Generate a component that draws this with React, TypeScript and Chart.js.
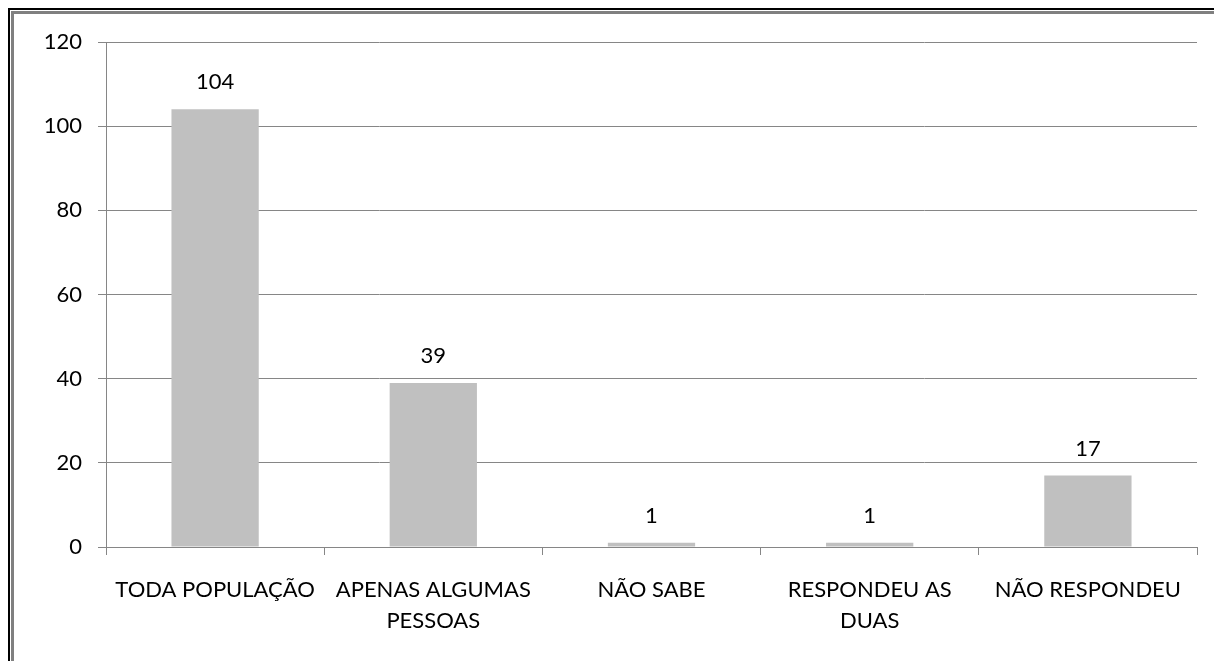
import React, { useEffect, useRef } from "react";
import { Chart, registerables } from "chart.js";

Chart.register(...registerables);

const categories: (string | string[])[] = [
  "TODA POPULAÇÃO",
  ["APENAS ALGUMAS", "PESSOAS"],
  "NÃO SABE",
  ["RESPONDEU AS", "DUAS"],
  "NÃO RESPONDEU",
];
const values: number[] = [104, 39, 1, 1, 17];
const yTicks: number[] = [0, 20, 40, 60, 80, 100, 120];

const FONT = "Lato";
const FONT_SIZE = 22;
const GRID = "#868686";

const framePlugin = {
  id: "frame",
  beforeDraw(chart: any) {
    const { ctx, width, height } = chart;
    ctx.save();
    ctx.fillStyle = "#ffffff";
    ctx.fillRect(0, 0, width, height);
    ctx.fillStyle = "#000000";
    ctx.fillRect(8, 8, width - 8, 2);
    ctx.fillRect(8, 8, 2, height - 8);
    ctx.fillStyle = "#808080";
    ctx.fillRect(11, 11, width - 11, 3);
    ctx.fillRect(11, 11, 3, height - 11);
    ctx.restore();
  },
};

const valueLabelPlugin = {
  id: "valueLabels",
  afterDatasetsDraw(chart: any) {
    const { ctx } = chart;
    const meta = chart.getDatasetMeta(0);
    ctx.save();
    ctx.font = `${FONT_SIZE}px ${FONT}`;
    ctx.fillStyle = "#000000";
    ctx.textAlign = "center";
    ctx.textBaseline = "middle";
    meta.data.forEach((bar: any, i: number) => {
      ctx.fillText(String(values[i]), bar.x, bar.y - 27);
    });
    ctx.restore();
  },
};

export default function App() {
  const ref = useRef<HTMLCanvasElement | null>(null);
  useEffect(() => {
    if (!ref.current) return;
    const chart = new Chart(ref.current, {
      type: "bar",
      data: {
        labels: categories,
        datasets: [
          {
            data: values,
            backgroundColor: "#C0C0C0",
            borderWidth: 0,
            barPercentage: 0.4,
            categoryPercentage: 1,
          },
        ],
      },
      options: {
        animation: false,
        responsive: false,
        maintainAspectRatio: false,
        layout: { padding: { left: 20, top: 42, right: 17, bottom: 0 } },
        plugins: {
          legend: { display: false },
          tooltip: { enabled: false },
        },
        scales: {
          x: {
            grid: {
              offset: true,
              drawOnChartArea: false,
              tickLength: 8,
              color: GRID,
            },
            border: { color: GRID },
            ticks: {
              color: "#000000",
              font: { family: FONT, size: FONT_SIZE, lineHeight: 1.4 },
              padding: 20,
              maxRotation: 0,
              autoSkip: false,
            },
            afterFit(scale: any) {
              scale.height = 114;
            },
          },
          y: {
            min: 0,
            max: 120,
            afterBuildTicks(scale: any) {
              scale.ticks = yTicks.map((v) => ({ value: v }));
            },
            grid: { color: GRID, tickLength: 8 },
            border: { color: GRID },
            ticks: {
              color: "#000000",
              font: { family: FONT, size: FONT_SIZE },
              padding: 16,
            },
            afterFit(scale: any) {
              scale.width = 86;
            },
          },
        },
      },
      plugins: [framePlugin, valueLabelPlugin],
    });
    return () => chart.destroy();
  }, []);
  return (
    <div style={{ position: "absolute", left: 0, top: 0, width: 1214, height: 661 }}>
      <canvas ref={ref} width={1214} height={661} style={{ display: "block" }} />
    </div>
  );
}
